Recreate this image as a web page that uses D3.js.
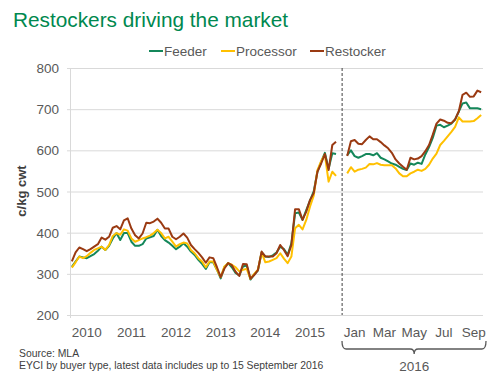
<!DOCTYPE html>
<html><head><meta charset="utf-8">
<script src="https://cdn.jsdelivr.net/npm/d3@7"></script>
<style>
body{margin:0;background:#fff}
svg{display:block;font-family:"Liberation Sans",Arial,sans-serif}
</style>
</head><body>
<svg id="chart" width="500" height="381"></svg>
<script>
// ---- data ----
const seriesNames = ["Feeder", "Processor", "Restocker"];
const seriesColors = ["#14875a", "#ffc000", "#9a3a12"];

// monthly history (2010-2015 section)
const feederHist = [317,330,342,340,338,343,348,356,366,358,368,386,399,382,399,399,378,368,368,372,386,389,392,407,392,382,376,368,360,366,374,366,354,346,334,324,312,328,328,310,289,316,326,316,302,296,318,320,286,298,308,352,342,341,345,352,366,360,346,374,447,449,431,455,478,500,548,572,594,555,593,591];
const processorHist = [315,328,342,338,343,351,358,362,366,358,370,392,399,395,408,405,386,378,382,386,389,393,399,407,399,386,390,378,366,372,376,374,358,350,338,330,316,330,330,310,292,318,326,322,316,306,310,312,288,300,310,352,328,330,334,338,350,337,326,342,411,419,408,431,463,490,552,574,589,524,548,538];
const restockerHist = [330,352,364,360,355,360,366,372,388,383,390,412,416,408,430,435,410,394,386,398,424,423,427,434,424,410,410,390,384,390,398,388,370,360,351,340,327,340,338,316,292,313,326,321,305,295,324,323,288,297,309,354,342,342,342,350,370,358,343,370,457,457,431,451,479,496,548,568,591,552,613,621];

// weekly 2016 section
const feeder2016 = [588,600,586,582,586,591,591,588,593,582,578,573,568,565,560,555,552,568,565,570,567,590,608,630,660,662,656,660,665,675,694,714,716,702,702,702,700];
const processor2016 = [544,559,548,553,555,558,567,566,569,565,564,564,564,556,544,537,537,544,548,553,550,555,565,580,592,613,623,634,645,657,680,670,670,670,671,678,686];
const restocker2016 = [586,622,625,616,615,625,634,627,627,620,612,605,594,578,568,560,553,582,578,580,586,598,613,638,665,675,672,667,666,675,695,735,740,730,731,745,741];

const yTicks = [200,300,400,500,600,700,800];
const yearLabels = ["2010","2011","2012","2013","2014","2015"];
const yearLabelMonth = [4,16,28,40,52,64];     // month index in history under each year label
const monthLabels = ["Jan","Mar","May","Jul","Sep"];
const monthLabelWeek = [2,10,18,26,34];        // week index in 2016 under each month label

// ---- categories ----
const histCats = feederHist.map((_, i) => "h" + i);
const gapCats = ["g0", "g1"];
const weekCats = feeder2016.map((_, i) => "w" + i);
const allCats = histCats.concat(gapCats, weekCats);

const svg = d3.select("#chart");
const x = d3.scaleBand().domain(allCats).range([70, 483]);
const xc = k => x(k) + x.bandwidth() / 2;
const y = d3.scaleLinear().domain([200, 800]).range([315, 68]);

const grey = "#595959";

// title
svg.append("text").attr("x", 13).attr("y", 27)
  .attr("font-size", 20.8).attr("fill", "#00884f")
  .text("Restockers driving the market");

// legend
const legX = [149, 221, 310];
seriesNames.forEach((n, i) => {
  svg.append("line").attr("x1", legX[i]).attr("x2", legX[i] + 14)
    .attr("y1", 51).attr("y2", 51)
    .attr("stroke", seriesColors[i]).attr("stroke-width", 2);
  svg.append("text").attr("x", legX[i] + 15).attr("y", 56)
    .attr("font-size", 13.5).attr("fill", grey).text(n);
});

// gridlines
const grid = svg.append("g");
grid.selectAll("line").data(yTicks).join("line")
  .attr("x1", 67).attr("x2", 483)
  .attr("y1", d => y(d) + 0.5).attr("y2", d => y(d) + 0.5)
  .attr("stroke", "#d9d9d9").attr("stroke-width", 1);
svg.append("line").attr("x1", 70.5).attr("x2", 70.5)
  .attr("y1", y(800)).attr("y2", y(200) + 3)
  .attr("stroke", "#d9d9d9");

// y tick labels
svg.append("g").selectAll("text").data(yTicks).join("text")
  .attr("x", 59).attr("y", d => y(d) + 5)
  .attr("text-anchor", "end").attr("font-size", 13.5).attr("fill", grey)
  .text(d => d);

// y axis title
svg.append("text").attr("transform", "translate(26,191) rotate(-90)")
  .attr("text-anchor", "middle").attr("font-size", 13).attr("font-weight", "bold")
  .attr("fill", "#404040").text("c/kg cwt");

// dashed separator
const sepX = (xc("g0") + xc("g1")) / 2 + 0.5;
svg.append("line").attr("x1", sepX).attr("x2", sepX)
  .attr("y1", y(800)).attr("y2", y(200))
  .attr("stroke", "#404040").attr("stroke-width", 1).attr("stroke-dasharray", "3,2");

// lines
const histData = [feederHist, processorHist, restockerHist];
const wkData = [feeder2016, processor2016, restocker2016];
const lineH = d3.line().x((d, i) => xc(histCats[i])).y(d => y(d));
const lineW = d3.line().x((d, i) => xc(weekCats[i])).y(d => y(d));
[0, 1, 2].forEach(s => {
  svg.append("path").attr("d", lineH(histData[s])).attr("fill", "none")
    .attr("stroke", seriesColors[s]).attr("stroke-width", 2).attr("stroke-linejoin", "round");
  svg.append("path").attr("d", lineW(wkData[s])).attr("fill", "none")
    .attr("stroke", seriesColors[s]).attr("stroke-width", 2).attr("stroke-linejoin", "round");
});

// x labels
svg.append("g").selectAll("text").data(yearLabels).join("text")
  .attr("x", (d, i) => xc(histCats[yearLabelMonth[i]]))
  .attr("y", 337).attr("text-anchor", "middle").attr("font-size", 13.5).attr("fill", grey)
  .text(d => d);
svg.append("g").selectAll("text").data(monthLabels).join("text")
  .attr("x", (d, i) => xc(weekCats[monthLabelWeek[i]]))
  .attr("y", 337).attr("text-anchor", "middle").attr("font-size", 13.5).attr("fill", grey)
  .text(d => d);

// bracket for 2016
const bL = 342, bR = 486, bM = (xc(weekCats[0]) + xc(weekCats[weekCats.length - 1])) / 2;
svg.append("path")
  .attr("d", `M${bL},341 Q${bL},349 ${bL+4},349 L${bM-4},349 Q${bM},349 ${bM},354 Q${bM},349 ${bM+4},349 L${bR-4},349 Q${bR},349 ${bR},341`)
  .attr("fill", "none").attr("stroke", grey).attr("stroke-width", 1.3);
svg.append("text").attr("x", bM).attr("y", 371).attr("text-anchor", "middle")
  .attr("font-size", 13.5).attr("fill", grey).text("2016");

// source notes
svg.append("text").attr("x", 19).attr("y", 357).attr("font-size", 10.4).attr("fill", "#404040")
  .text("Source: MLA");
svg.append("text").attr("x", 19).attr("y", 369).attr("font-size", 10.4).attr("fill", "#404040")
  .text("EYCI by buyer type, latest data includes up to 15 September 2016");
</script>
</body></html>
